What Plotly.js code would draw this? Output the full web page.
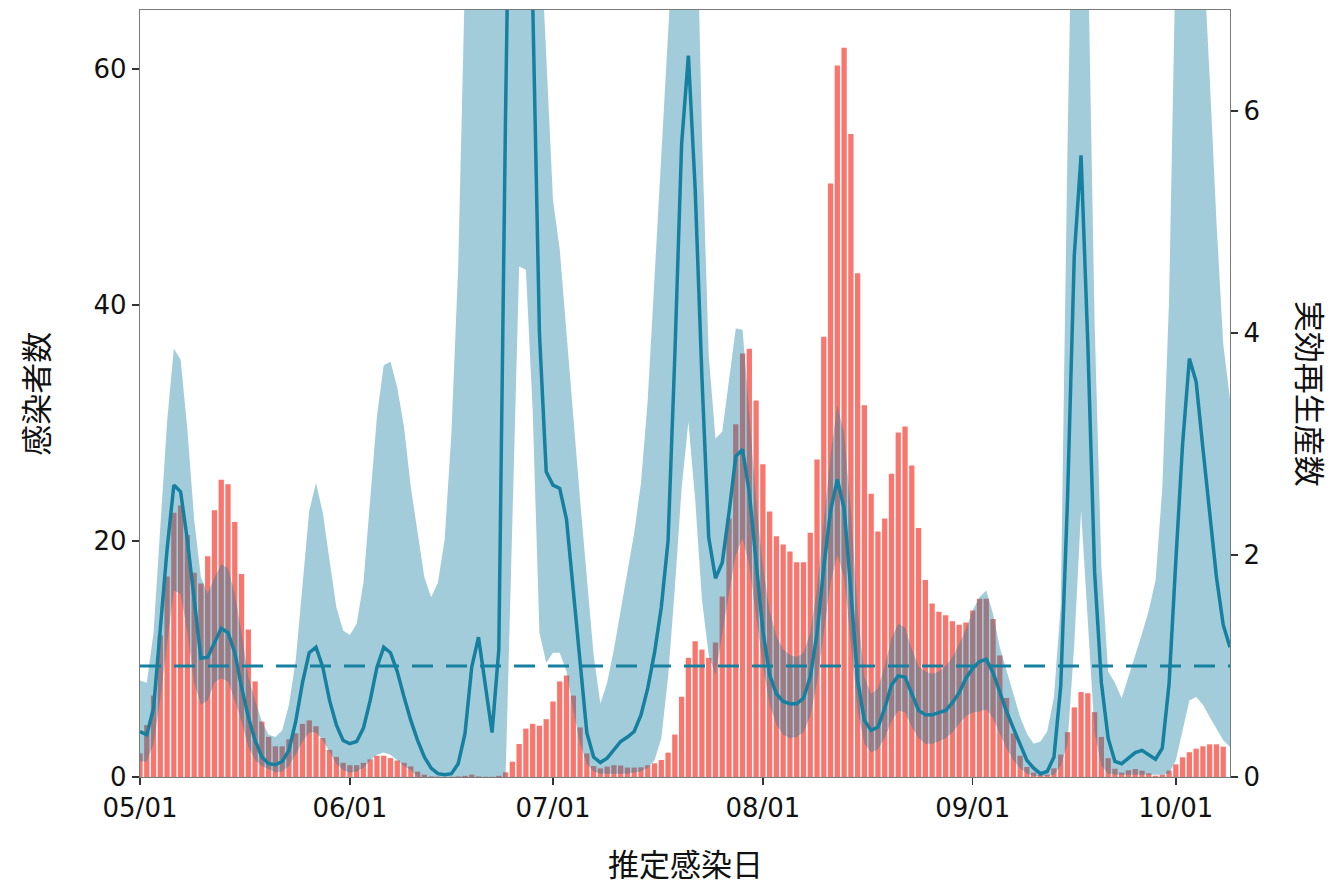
<!DOCTYPE html>
<html>
<head>
<meta charset="utf-8">
<script src="https://cdn.plot.ly/plotly-3.0.1.min.js"></script>
<style>html,body{margin:0;padding:0;background:#fff}#chart{width:1335px;height:885px}</style>
</head>
<body>
<div id="chart"></div>
<script>
// ---- data (daily, starting 2020-05-01) ----
const startDate = '2020-05-01';
const cases = [
 2.0,4.4,6.9,12.0,17.0,22.4,23.0,20.5,17.3,16.4,
 18.7,22.6,25.2,24.8,21.6,17.2,12.5,8.1,4.7,3.4,
 2.6,2.6,3.2,3.7,4.5,4.8,4.3,3.3,2.3,1.7,
 1.2,1.0,1.0,1.2,1.5,1.8,1.8,1.6,1.4,1.2,
 0.9,0.45,0.2,0.05,0.03,0.02,0.02,0.05,0.1,0.2,
 0.05,0.02,0.02,0.1,0.4,1.3,2.8,4.1,4.5,4.35,
 4.9,6.4,8.1,8.6,6.9,4.2,2.0,0.93,0.73,0.88,
 1.0,0.97,0.8,0.8,0.82,1.0,1.16,1.44,2.06,3.6,
 6.8,10.1,11.5,10.8,10.1,11.4,15.3,21.9,29.9,35.9,
 36.3,31.9,26.5,22.5,20.4,19.7,19.1,18.2,18.2,20.7,
 26.9,37.3,50.3,60.3,61.8,54.5,42.7,31.5,24.0,20.8,
 21.9,25.7,29.2,29.7,26.4,21.1,16.7,14.7,14.0,13.7,
 13.2,12.9,13.1,14.1,15.1,15.1,13.4,10.3,6.7,3.7,
 1.8,0.85,0.37,0.17,0.2,0.73,1.9,3.8,5.9,7.2,
 7.1,5.5,3.4,1.6,0.7,0.37,0.57,0.68,0.54,0.31,
 0.11,0.2,0.54,1.07,1.67,2.1,2.4,2.6,2.77,2.77,
 2.57
];
const rMean = [
 0.41,0.38,0.62,1.3,2.05,2.63,2.57,2.13,1.6,1.07,
 1.08,1.21,1.34,1.3,1.12,0.81,0.54,0.33,0.18,0.12,
 0.11,0.14,0.24,0.5,0.85,1.12,1.17,0.99,0.69,0.47,
 0.33,0.3,0.32,0.44,0.69,0.99,1.17,1.12,0.95,0.72,
 0.51,0.33,0.18,0.08,0.03,0.02,0.03,0.12,0.39,0.99,
 1.26,0.83,0.4,1.15,6.0,10,12,10,7.1,4.0,
 2.75,2.63,2.6,2.32,1.68,1.03,0.4,0.18,0.13,0.17,
 0.25,0.32,0.36,0.41,0.56,0.8,1.12,1.53,2.13,3.8,
 5.7,6.5,5.3,3.6,2.16,1.79,1.93,2.38,2.89,2.95,
 2.56,1.93,1.32,0.92,0.75,0.68,0.66,0.66,0.71,0.9,
 1.29,1.89,2.4,2.68,2.42,1.68,0.87,0.51,0.42,0.45,
 0.62,0.83,0.91,0.9,0.74,0.6,0.56,0.56,0.58,0.6,
 0.67,0.76,0.89,0.98,1.04,1.06,0.94,0.76,0.59,0.44,
 0.29,0.15,0.08,0.03,0.05,0.18,0.82,2.5,4.7,5.6,
 3.9,1.85,0.85,0.35,0.14,0.12,0.17,0.22,0.24,0.2,
 0.16,0.26,0.84,1.95,3.0,3.77,3.56,2.96,2.38,1.8,
 1.37,1.17
];
const rUpper = [
 0.87,0.85,1.3,2.3,3.2,3.86,3.76,3.13,2.32,1.8,
 1.65,1.8,1.92,1.88,1.65,1.3,0.9,0.69,0.5,0.38,
 0.36,0.42,0.65,1.05,1.71,2.4,2.65,2.38,1.95,1.53,
 1.32,1.28,1.38,1.75,2.5,3.25,3.71,3.74,3.51,3.15,
 2.61,2.2,1.8,1.62,1.75,2.14,3.1,4.6,8,12,
 14,15,15,15,16,18,18,16,12,7.8,
 6.5,5.2,4.75,4.0,3.2,2.5,1.8,1.1,0.66,0.85,
 1.15,1.5,1.85,2.2,2.65,3.4,4.5,5.6,6.6,7.8,
 9,10,8.5,5.8,3.8,3.05,3.11,3.58,4.04,4.03,
 3.3,2.5,1.9,1.5,1.27,1.15,1.1,1.08,1.12,1.3,
 1.7,2.3,2.9,3.35,3.1,2.4,1.5,0.9,0.75,0.8,
 1.0,1.25,1.38,1.35,1.15,1.0,0.95,0.93,0.95,1.0,
 1.08,1.2,1.33,1.5,1.62,1.68,1.47,1.17,0.96,0.75,
 0.54,0.39,0.3,0.32,0.41,0.72,1.55,5.7,9,10,
 7.5,4.1,1.9,0.95,0.85,0.71,0.9,1.08,1.29,1.5,
 1.77,2.6,4.3,7.5,10,11,10,7.5,6.3,5.0,
 3.9,3.4
];
const rLower = [
 0.14,0.14,0.3,0.7,1.2,1.68,1.65,1.3,0.85,0.65,
 0.69,0.85,0.89,0.86,0.69,0.5,0.27,0.15,0.1,0.07,
 0.04,0.05,0.1,0.2,0.32,0.4,0.4,0.33,0.22,0.12,
 0.06,0.04,0.05,0.08,0.15,0.2,0.22,0.2,0.15,0.1,
 0.06,0,0,0,0,0,0,0,0,0,
 0,0,0,0,0,2.3,4.6,4.57,3.3,1.3,
 1.03,1.12,1.12,0.95,0.6,0.3,0.12,0.05,0.03,0.03,
 0.03,0.03,0.03,0.04,0.05,0.08,0.15,0.35,0.9,1.7,
 2.6,3.2,2.5,1.6,1.1,0.92,1.3,1.65,2.0,2.15,
 1.9,1.45,1.0,0.65,0.47,0.38,0.35,0.36,0.4,0.55,
 0.85,1.3,1.75,2.0,1.8,1.2,0.6,0.3,0.22,0.25,
 0.35,0.5,0.6,0.58,0.45,0.35,0.3,0.3,0.32,0.35,
 0.4,0.48,0.55,0.58,0.59,0.61,0.53,0.39,0.26,0.15,
 0.08,0.03,0.01,0.01,0.01,0.02,0.1,0.3,1.2,2.4,
 1.4,0.4,0.1,0.03,0.02,0.02,0.02,0.02,0.02,0.02,
 0.02,0.02,0.03,0.15,0.42,0.69,0.72,0.65,0.54,0.44,
 0.33,0.27
];
const threshold = 1;
const tickDates = ['2020-05-01','2020-06-01','2020-07-01','2020-08-01','2020-09-01','2020-10-01'];
const tickLabels = ['05/01','06/01','07/01','08/01','09/01','10/01'];
const xTitle = '推定感染日';
const yTitle = '感染者数';
const y2Title = '実効再生産数';

// ---- build daily dates ----
function dayList(n){
  const out=[]; const d0=new Date(startDate+'T00:00:00Z');
  for(let i=0;i<n;i++){const d=new Date(d0.getTime()+i*86400000); out.push(d.toISOString().slice(0,10));}
  return out;
}
const datesR = dayList(rMean.length);
const datesC = datesR.slice(0, cases.length);

const lineColor = 'rgb(22,128,160)';
const bandColor = 'rgba(22,128,160,0.4)';
const FONT = '"DejaVu Sans", "Noto Sans CJK JP", sans-serif';
const CJK = '"Noto Sans CJK JP", sans-serif';

const traces = [
  {type:'bar', x:datesC, y:cases, yaxis:'y', width:0.78*86400000,
   marker:{color:'#F8766D', line:{width:0}}, hoverinfo:'x+y'},
  {type:'scatter', mode:'lines', x:datesR, y:rLower, yaxis:'y2',
   line:{width:0, color:bandColor}, hoverinfo:'skip'},
  {type:'scatter', mode:'lines', x:datesR, y:rUpper, yaxis:'y2', fill:'tonexty',
   fillcolor:bandColor, line:{width:0, color:bandColor}, hoverinfo:'skip'},
  {type:'scatter', mode:'lines', x:datesR, y:rMean, yaxis:'y2',
   line:{width:3.5, color:lineColor}}
];

const axisCommon = {showline:true, linecolor:'#7a7a7a', linewidth:1.3, ticks:'outside',
  ticklen:7, tickwidth:1.5, tickcolor:'#333', showgrid:false, zeroline:false,
  tickfont:{family:FONT, size:26, color:'#111'}};

const layout = {
  width:1335, height:885,
  margin:{l:140, r:105, t:10, b:108},
  paper_bgcolor:'#fff', plot_bgcolor:'#fff',
  showlegend:false, font:{family:FONT},
  xaxis:Object.assign({}, axisCommon, {type:'date', range:['2020-05-01','2020-10-09'],
    tickvals:tickDates, ticktext:tickLabels, mirror:true}),
  yaxis:Object.assign({}, axisCommon, {range:[0,65], tickvals:[0,20,40,60]}),
  yaxis2:Object.assign({}, axisCommon, {range:[0,6.91], tickvals:[0,2,4,6],
    overlaying:'y', side:'right'}),
  shapes:[{type:'line', xref:'paper', x0:0, x1:1, yref:'y2', y0:threshold, y1:threshold,
    line:{color:lineColor, width:3, dash:'21px,13px'}, layer:'above'}],
  annotations:[
    {text:xTitle, xref:'paper', yref:'paper', x:0.5, y:-0.111, yanchor:'middle', showarrow:false,
     font:{family:CJK, size:31, color:'#111'}},
    {text:yTitle, xref:'paper', yref:'paper', x:-0.097, xanchor:'center', y:0.5, yanchor:'middle', textangle:-90, showarrow:false,
     font:{family:CJK, size:31, color:'#111'}},
    {text:y2Title, xref:'paper', yref:'paper', x:1.075, xanchor:'center', y:0.5, yanchor:'middle', textangle:90, showarrow:false,
     font:{family:CJK, size:31, color:'#111'}}
  ]
};

Plotly.newPlot('chart', traces, layout, {displayModeBar:false, staticPlot:true});
</script>
</body>
</html>
